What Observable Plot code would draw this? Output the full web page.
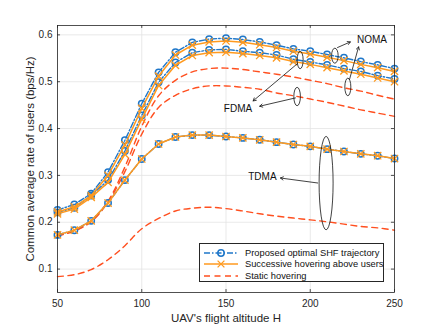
<!DOCTYPE html>
<html>
<head>
<meta charset="utf-8">
<script src="https://cdn.jsdelivr.net/npm/d3@7"></script>
<script src="https://cdn.jsdelivr.net/npm/@observablehq/plot@0.6"></script>
<style>
  body { margin: 0; background: #fff; }
  #wrap { position: relative; width: 436px; height: 328px; font-family: "Liberation Sans", Arial, sans-serif; }
  #legend { position: absolute; left: 199px; top: 243px; width: 185px; height: 39px; border: 1px solid #262626; background: #fff; box-sizing: border-box; font-size: 9.3px; color: #111; }
  .row { position: absolute; left: 3px; height: 11px; display: flex; align-items: center; white-space: nowrap; }
  .row svg { margin-right: 6px; }
</style>
</head>
<body>
<div id="wrap"></div>
<script>
const altitude = [50,60,70,80,90,100,110,120,130,140,150,160,170,180,190,200,210,220,230,240,250];

const nomaProposed   = [0.226,0.238,0.261,0.307,0.375,0.453,0.520,0.563,0.584,0.591,0.593,0.590,0.585,0.578,0.570,0.565,0.558,0.551,0.543,0.536,0.528];
const nomaSuccessive = [0.222,0.233,0.257,0.300,0.365,0.443,0.512,0.557,0.578,0.585,0.587,0.584,0.579,0.573,0.565,0.559,0.552,0.545,0.537,0.530,0.522];
const fdmaProposed   = [0.221,0.231,0.257,0.290,0.352,0.428,0.499,0.541,0.562,0.568,0.569,0.565,0.562,0.557,0.548,0.542,0.536,0.528,0.522,0.513,0.506];
const fdmaSuccessive = [0.218,0.228,0.253,0.285,0.345,0.420,0.492,0.535,0.556,0.562,0.563,0.560,0.556,0.551,0.543,0.537,0.530,0.523,0.516,0.508,0.500];
const tdmaProposed   = [0.173,0.183,0.203,0.241,0.290,0.335,0.367,0.382,0.386,0.386,0.383,0.380,0.376,0.371,0.366,0.362,0.356,0.351,0.346,0.342,0.336];
const tdmaSuccessive = [0.173,0.183,0.203,0.241,0.290,0.335,0.367,0.382,0.386,0.386,0.383,0.380,0.376,0.371,0.366,0.362,0.356,0.351,0.346,0.342,0.336];
const nomaStatic     = [0.172,0.182,0.203,0.245,0.318,0.405,0.470,0.503,0.521,0.528,0.529,0.526,0.521,0.516,0.510,0.503,0.496,0.487,0.480,0.471,0.463];
const fdmaStatic     = [0.171,0.181,0.201,0.243,0.308,0.388,0.445,0.471,0.485,0.491,0.491,0.488,0.484,0.476,0.470,0.463,0.456,0.448,0.440,0.433,0.426];
const tdmaStatic     = [0.084,0.088,0.099,0.120,0.150,0.186,0.208,0.224,0.230,0.232,0.229,0.224,0.218,0.213,0.209,0.205,0.201,0.196,0.191,0.188,0.183];

const xTicks = [50,100,150,200,250];
const yTicks = [0.1,0.2,0.3,0.4,0.5,0.6];
const xLabel = "UAV's flight altitude H";
const yLabel = "Common average rate of users (bps/Hz)";
const legendLabels = ["Proposed optimal SHF trajectory", "Successive hovering above users", "Static hovering"];

// annotations (data coordinates)
const annoTexts = [
  {x: 227.7, y: 0.590, text: "NOMA"},
  {x: 148.7, y: 0.442, text: "FDMA"},
  {x: 163.2, y: 0.2966, text: "TDMA"}
];
const annoArrows = [
  {x1: 216.2, y1: 0.573, x2: 223.8, y2: 0.585},
  {x1: 223.3, y1: 0.5047, x2: 228.7, y2: 0.5744},
  {x1: 192.5, y1: 0.5389, x2: 166.1, y2: 0.459},
  {x1: 191.2, y1: 0.4654, x2: 170.0, y2: 0.4477},
  {x1: 204.4, y1: 0.2838, x2: 182.3, y2: 0.2944}
];
const annoEllipses = [
  {x: 214.9, y: 0.5545, rx: 3.3, ry: 7.5},
  {x: 222.6, y: 0.4878, rx: 3.0, ry: 8.8},
  {x: 194.3, y: 0.5453, rx: 3.0, ry: 8.7},
  {x: 192.5, y: 0.4673, rx: 3.3, ry: 9.2},
  {x: 209.7, y: 0.2825, rx: 7.0, ry: 46.7}
];

const BLUE = "#1f77c9", ORANGE = "#ff9a1f", RED = "#ff4f1f";
const toRows = arr => altitude.map((a, i) => ({x: a, y: arr[i]}));

const proposedSets = [nomaProposed, fdmaProposed, tdmaProposed].map(toRows);
const successiveSets = [nomaSuccessive, fdmaSuccessive, tdmaSuccessive].map(toRows);
const staticSets = [nomaStatic, fdmaStatic, tdmaStatic].map(toRows);

const marks = [
  Plot.ruleX(xTicks, {x: d => d, stroke: "#e3e3e3", strokeWidth: 0.8}),
  Plot.ruleY(yTicks, {y: d => d, stroke: "#e3e3e3", strokeWidth: 0.8}),
  Plot.axisX(xTicks, {tickSize: 0, tickPadding: 7, fontSize: 10, tickFormat: d => d, color: "#262626"}),
  Plot.axisY(yTicks, {tickSize: 0, tickPadding: 5, fontSize: 10, tickFormat: d => d.toFixed(1), color: "#262626"}),
  // inward ticks on the box
  Plot.ruleX(xTicks, {x: d => d, y1: 0.05, y2: 0.0563, stroke: "#262626", strokeWidth: 0.8}),
  Plot.ruleX(xTicks, {x: d => d, y1: 0.62, y2: 0.6137, stroke: "#262626", strokeWidth: 0.8}),
  Plot.ruleY(yTicks, {y: d => d, x1: 50, x2: 51.8, stroke: "#262626", strokeWidth: 0.8}),
  Plot.ruleY(yTicks, {y: d => d, x1: 250, x2: 248.2, stroke: "#262626", strokeWidth: 0.8}),
];
for (const s of staticSets) {
  marks.push(Plot.line(s, {x: "x", y: "y", stroke: RED, strokeWidth: 1.4, strokeDasharray: "6,4.5", curve: "catmull-rom"}));
}
for (const s of proposedSets) {
  marks.push(Plot.line(s, {x: "x", y: "y", stroke: BLUE, strokeWidth: 1.4, strokeDasharray: "6,2,1.5,2"}));
  marks.push(Plot.dot(s, {x: "x", y: "y", stroke: BLUE, strokeWidth: 1.5, r: 3.2, fill: "none"}));
}
for (const s of successiveSets) {
  marks.push(Plot.line(s, {x: "x", y: "y", stroke: ORANGE, strokeWidth: 1.5}));
  marks.push(Plot.dot(s, {x: "x", y: "y", stroke: ORANGE, strokeWidth: 1.3, r: 3.4, symbol: "times"}));
}
marks.push(
  Plot.arrow(annoArrows, {x1: "x1", y1: "y1", x2: "x2", y2: "y2", stroke: "#111", strokeWidth: 0.8, headLength: 6, bend: 0, insetStart: 0, insetEnd: 0}),
  (index, scales) => {
    const g = d3.create("svg:g");
    for (const e of annoEllipses) {
      g.append("ellipse").attr("cx", scales.x(e.x)).attr("cy", scales.y(e.y))
        .attr("rx", e.rx).attr("ry", e.ry).attr("fill", "none").attr("stroke", "#111").attr("stroke-width", 0.8);
    }
    return g.node();
  },
  Plot.text(annoTexts, {x: "x", y: "y", text: "text", textAnchor: "start", fontSize: 10, fill: "#111"}),
  Plot.frame({stroke: "#262626", strokeWidth: 0.8}),
  Plot.text([xLabel], {frameAnchor: "bottom", dy: 26, fontSize: 11.5, fill: "#262626", lineAnchor: "middle", textAnchor: "middle"}),
  Plot.text([yLabel], {frameAnchor: "left", dx: -27, rotate: -90, fontSize: 11.5, fill: "#262626", lineAnchor: "middle", textAnchor: "middle"})
);

const plot = Plot.plot({
  width: 436, height: 328,
  marginLeft: 57, marginRight: 42, marginTop: 25, marginBottom: 36,
  style: {fontFamily: '"Liberation Sans", Arial, sans-serif', background: "#fff"},
  x: {domain: [50, 250]},
  y: {domain: [0.05, 0.62]},
  marks
});
const wrap = document.getElementById("wrap");
wrap.appendChild(plot);

// legend overlay
const legend = document.createElement("div");
legend.id = "legend";
const rowTop = [3, 14.5, 26];
const sample = [
  `<svg width="36" height="10"><line x1="1" y1="5" x2="35" y2="5" stroke="${BLUE}" stroke-width="1.4" stroke-dasharray="6,2,1.5,2"/><circle cx="18" cy="5" r="3.2" fill="none" stroke="${BLUE}" stroke-width="1.5"/></svg>`,
  `<svg width="36" height="10"><line x1="1" y1="5" x2="35" y2="5" stroke="${ORANGE}" stroke-width="1.5"/><path d="M14.6,1.6L21.4,8.4M21.4,1.6L14.6,8.4" stroke="${ORANGE}" stroke-width="1.3"/></svg>`,
  `<svg width="36" height="10"><line x1="1" y1="5" x2="35" y2="5" stroke="${RED}" stroke-width="1.4" stroke-dasharray="6,4.5"/></svg>`
];
legendLabels.forEach((lab, i) => {
  const r = document.createElement("div");
  r.className = "row";
  r.style.top = rowTop[i] + "px";
  r.innerHTML = sample[i] + `<span>${lab}</span>`;
  legend.appendChild(r);
});
wrap.appendChild(legend);
</script>
</body>
</html>
